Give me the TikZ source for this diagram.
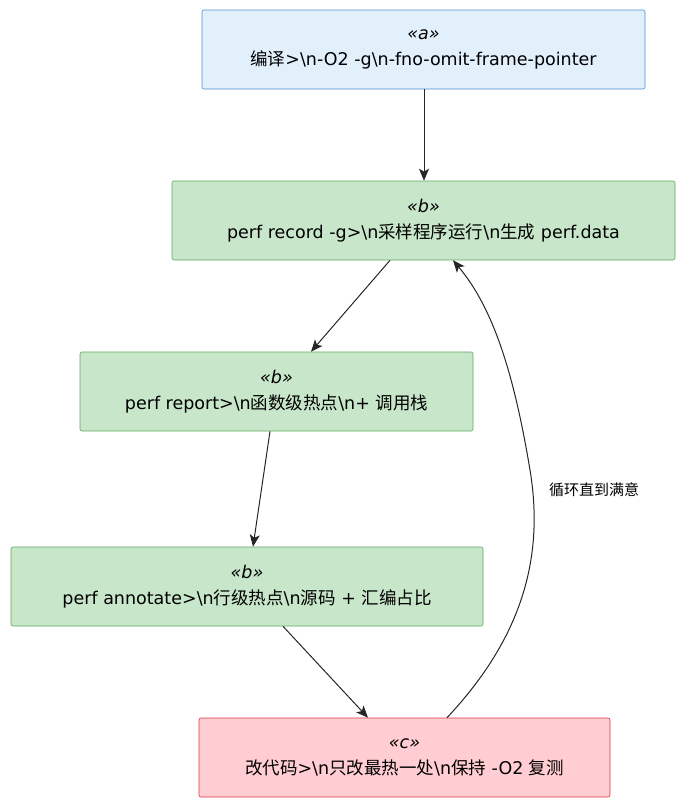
\documentclass[tikz,border=0pt]{standalone}
\usepackage{fontspec}
\setmainfont{DejaVu Sans}
\newfontfamily\cjk{Noto Sans CJK SC}
\usetikzlibrary{arrows.meta}
\definecolor{afill}{HTML}{E2F0FC}\definecolor{adraw}{HTML}{4A8FD0}
\definecolor{bfill}{HTML}{C8E6C9}\definecolor{bdraw}{HTML}{5DAA5E}
\definecolor{cfill}{HTML}{FFCDD2}\definecolor{cdraw}{HTML}{D9363E}
\tikzset{x=1pt,y=-1pt,
 box/.style={draw,rounded corners=2pt,minimum height=79pt,align=center,font=\fontsize{17.5}{26}\selectfont,line width=0.6pt,inner sep=0pt},
 sa/.style={box,fill=afill,draw=adraw},sb/.style={box,fill=bfill,draw=bdraw},sc/.style={box,fill=cfill,draw=cdraw},
 arr/.style={-{Stealth[length=12pt,width=10pt,inset=3pt]},line width=1pt,black!85}}
\newcommand{\st}[1]{\textit{«#1»}}
\begin{document}
\begin{tikzpicture}
\useasboundingbox (0,0) rectangle (682,804);
\node[sa,minimum width=443pt] (a) at (423.5,49.5) {\st{a}\\{\cjk 编译}>\textbackslash n-O2 -g\textbackslash n-fno-omit-frame-pointer};
\node[sb,minimum width=503pt] (b1) at (423.5,220.5) {\st{b}\\perf record -g>\textbackslash n{\cjk 采样程序运行}\textbackslash n{\cjk 生成} perf.data};
\node[sb,minimum width=393pt] (b2) at (276.5,391.5) {\st{b}\\perf report>\textbackslash n{\cjk 函数级热点}\textbackslash n+ {\cjk 调用栈}};
\node[sb,minimum width=472pt] (b3) at (247,586.5) {\st{b}\\perf annotate>\textbackslash n{\cjk 行级热点}\textbackslash n{\cjk 源码} + {\cjk 汇编占比}};
\node[sc,minimum width=411pt] (c) at (404.5,757.5) {\st{c}\\{\cjk 改代码}>\textbackslash n{\cjk 只改最热一处}\textbackslash n{\cjk 保持} -O2 {\cjk 复测}};
\draw[arr] (a.south -| 424,0) -- (b1.north -| 424,0);
\draw[arr] (b1.south -| 390,0) -- (b2.north -| 311,0);
\draw[arr] (b2.south -| 270,0) -- (b3.north -| 253,0);
\draw[arr] (b3.south -| 283,0) -- (c.north -| 368,0);
\draw[arr] (c.north -| 447,0) .. controls (520,640) and (545,560) .. (530,470) .. controls (515,380) and (495,310) .. (b1.south -| 453,0);
\node[font=\fontsize{15}{18}\selectfont\cjk] (lbl) at (594,490) {循环直到满意};
\end{tikzpicture}
\end{document}
